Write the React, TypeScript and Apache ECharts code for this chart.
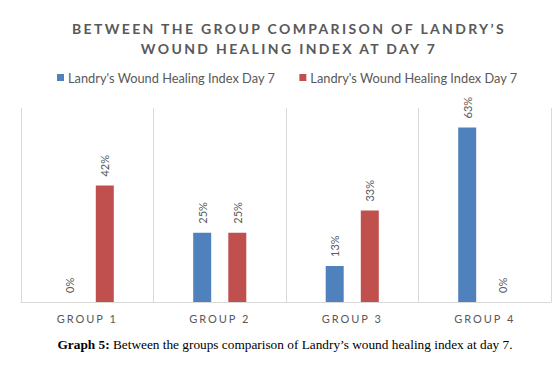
import React, { useEffect, useRef } from "react";
import * as echarts from "echarts";

const categories = ["GROUP 1", "GROUP 2", "GROUP 3", "GROUP 4"];
const blueValues = [0, 25, 13, 63];
const redValues = [42, 25, 33, 0];
const legendLabels: Record<string, string> = {
  s1: "Landry's Wound Healing Index Day 7",
  s2: "Landry's Wound Healing Index Day 7",
};
const titleLines = [
  "BETWEEN THE GROUP COMPARISON OF LANDRY\u2019S",
  "WOUND HEALING INDEX AT DAY 7",
];
const captionBold = "Graph 5:";
const captionText = "Between the groups comparison of Landry\u2019s wound healing index at day 7.";

const GRAY = "#595959";
const GRID = "#D9D9D9";

export default function App() {
  const ref = useRef<HTMLDivElement>(null);
  useEffect(() => {
    if (!ref.current) return;
    const chart = echarts.init(ref.current, undefined, { renderer: "svg" });
    const labelCfg = {
      show: true,
      position: "top" as const,
      distance: 9,
      rotate: 90,
      align: "left" as const,
      verticalAlign: "middle" as const,
      color: GRAY,
      fontSize: 11,
      fontFamily: "Lato",
      formatter: (p: any) => `${p.value}%`,
    };
    chart.setOption({
      animation: false,
      title: {
        text: titleLines.join("\n"),
        left: 284,
        top: 13,
        textAlign: "center",
        textStyle: {
          fontFamily: "Lato",
          fontWeight: "bold",
          fontSize: 14,
          color: GRAY,
          lineHeight: 20,
        },
      },
      legend: {
        left: 57,
        top: 71,
        padding: 0,
        itemWidth: 7,
        itemHeight: 7,
        itemGap: 24,
        icon: "rect",
        data: ["s1", "s2"],
        formatter: (name: string) => legendLabels[name],
        textStyle: { fontFamily: "Lato", fontSize: 12.8, color: GRAY, padding: [0, 0, 0, -1] },
      },
      grid: { left: 21, right: 2, top: 108, bottom: 74, containLabel: false },
      xAxis: {
        type: "category",
        data: categories,
        axisLine: { show: true, lineStyle: { color: GRID, width: 1 } },
        axisTick: { show: false },
        splitLine: { show: true, lineStyle: { color: GRID, width: 1 } },
        axisLabel: { fontFamily: "Lato", fontSize: 11, color: GRAY, margin: 11 },
      },
      yAxis: {
        type: "value",
        min: 0,
        max: 70,
        show: false,
        splitLine: { show: false },
      },
      series: [
        {
          id: "s1",
          name: "s1",
          type: "bar",
          data: blueValues,
          barWidth: 18,
          barGap: "95%",
          itemStyle: { color: "#4F81BD" },
          label: labelCfg,
        },
        {
          id: "s2",
          name: "s2",
          type: "bar",
          data: redValues,
          barWidth: 18,
          barGap: "95%",
          itemStyle: { color: "#C0504D" },
          label: labelCfg,
        },
      ],
      graphic: [
        {
          type: "text",
          x: 285,
          y: 344,
          style: {
            text: `{b|${captionBold}} ${captionText}`,
            fontFamily: "Liberation Serif",
            fontSize: 13.3,
            fill: "#000",
            align: "center",
            verticalAlign: "middle",
            rich: {
              b: { fontFamily: "Liberation Serif", fontSize: 13.3, fontWeight: "bold", fill: "#000" },
            },
          },
        },
      ],
    });
    const applySpacing = () => {
      const el = ref.current;
      if (!el) return;
      el.querySelectorAll("text").forEach((t) => {
        const s = (t.textContent || "").trim();
        if (titleLines.includes(s)) t.setAttribute("letter-spacing", "2.35");
        else if (categories.includes(s)) t.setAttribute("letter-spacing", "2");
      });
    };
    applySpacing();
    chart.on("finished", applySpacing);
    const timer = setTimeout(applySpacing, 50);
    return () => {
      clearTimeout(timer);
      chart.dispose();
    };
  }, []);
  return (
    <div
      ref={ref}
      style={{ position: "fixed", left: 0, top: 0, width: 553, height: 376, background: "#fff" }}
    />
  );
}
